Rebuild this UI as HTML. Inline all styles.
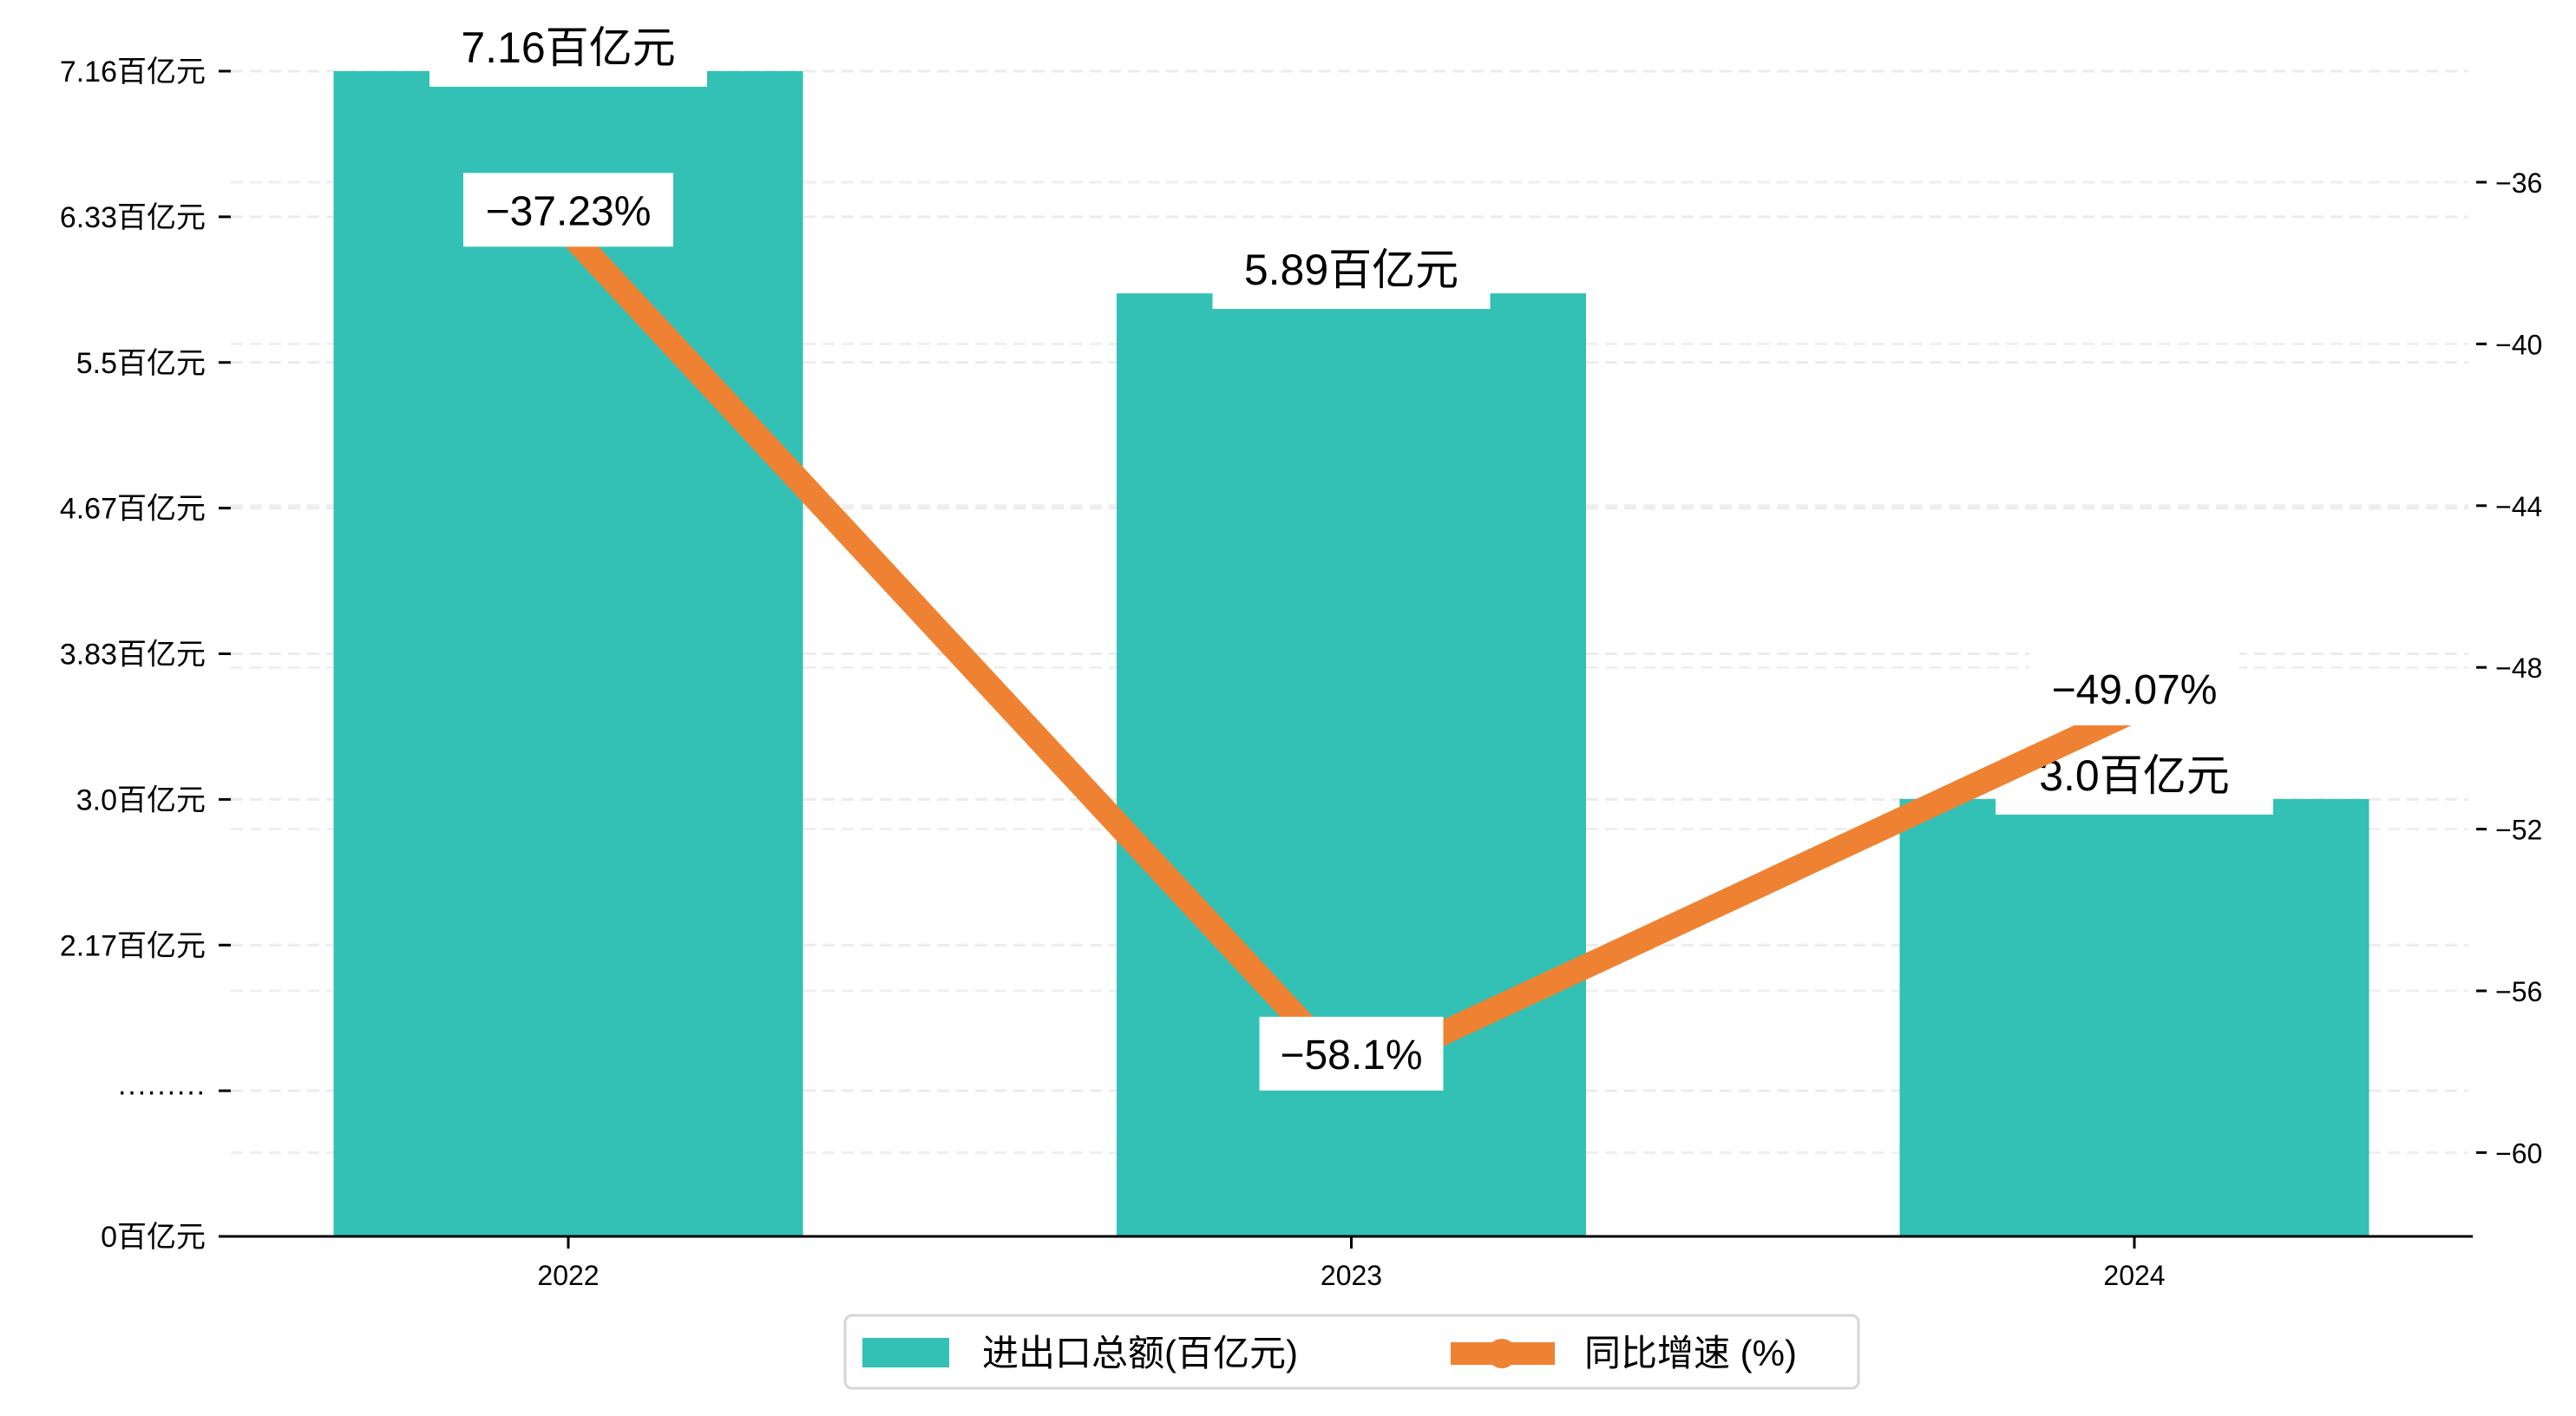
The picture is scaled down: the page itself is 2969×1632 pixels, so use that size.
<!DOCTYPE html>
<html><head><meta charset="utf-8">
<style>
html,body{margin:0;padding:0;background:#fff;}
svg{display:block;font-family:"Liberation Sans","Noto Sans CJK SC",sans-serif;}
</style></head>
<body>
<svg id="chart" width="2969" height="1632" viewBox="0 0 2969 1632" xmlns="http://www.w3.org/2000/svg">
<g id="grid"></g>
<g id="bars"></g>
<g id="barlabels"></g>
<g id="line"></g>
<g id="linelabels"></g>
<g id="axes"></g>
<g id="legend">
  <rect x="974" y="1516" width="1168" height="84" rx="8" fill="#fff" stroke="#d6d6d6" stroke-width="3"/>
  <rect x="994" y="1542" width="100" height="34" fill="#32C1B4"/>
  <text x="1132" y="1574" font-size="42" fill="#000">进出口总额(百亿元)</text>
  <line x1="1672" y1="1560" x2="1792" y2="1560" stroke="#EE8232" stroke-width="26"/>
  <circle cx="1731" cy="1560" r="17" fill="#EE8232"/>
  <text x="1826" y="1574" font-size="42" fill="#000">同比增速 (%)</text>
</g>
</svg>
<script>
const categories = ["2022", "2023", "2024"];
const tradeValues = [7.16, 5.89, 3.0];
const growthValues = [-37.23, -58.1, -49.07];
const leftTickLabels = ["7.16百亿元","6.33百亿元","5.5百亿元","4.67百亿元","3.83百亿元","3.0百亿元","2.17百亿元","·········","0百亿元"];
const rightTicks = [-36, -40, -44, -48, -52, -56, -60];

const NS = "http://www.w3.org/2000/svg";
function mk(tag, attrs, parent){ const e=document.createElementNS(NS,tag); for(const k in attrs) e.setAttribute(k,attrs[k]); parent.appendChild(e); return e; }

const plotL = 256, plotR = 2850, baseY = 1425;
const leftMax = 7.16, leftMin = 0.5;
const yTop = 82;
function yL(v){ return baseY - (v - leftMin) / (leftMax - leftMin) * (baseY - yTop); }
function yR(v){ return 210 + (-36 - v) * 46.6; }
function xC(i){ return 655 + i * 902.5; }
const barW = 541;

const grid = document.getElementById('grid');
const axes = document.getElementById('axes');
leftTickLabels.forEach((lab, i) => {
  const y = yTop + i * (baseY - yTop) / (leftTickLabels.length - 1);
  const g = mk('line',{x1:266,y1:y,x2:2845,y2:y,stroke:'#ececec','stroke-width':3,'stroke-dasharray':'14,8'},grid);
  
  
  const t = mk('line',{x1:252,y1:y,x2:266,y2:y,stroke:'#000','stroke-width':3},axes);
  
  
  const tx = mk('text',{x:237,y:y+12,'text-anchor':'end','font-size':34,fill:'#000'},axes);
  tx.textContent = lab;
  
  
});
rightTicks.forEach(v => {
  const y = yR(v);
  const g = mk('line',{x1:266,y1:y,x2:2845,y2:y,stroke:'#efefef','stroke-width':3,'stroke-dasharray':'14,8'},grid);
  
  
  const t = mk('line',{x1:2854,y1:y,x2:2866,y2:y,stroke:'#000','stroke-width':3},axes);
  
  
  const tx = mk('text',{x:2876,y:y+12,'font-size':32,fill:'#000'},axes);
  tx.textContent = '\u2212' + Math.abs(v);
  
  
});
const bars = document.getElementById('bars');
const bl = document.getElementById('barlabels');
tradeValues.forEach((v, i) => {
  const y = yL(v);
  const r = mk('rect',{x:xC(i)-barW/2,y:y,width:barW,height:baseY-y,fill:'#32C1B4'},bars);
  
  
  const b = mk('rect',{x:xC(i)-160,y:y-56,width:320,height:74,fill:'#fff'},bl);
  
  
  const t = mk('text',{x:xC(i),y:y-10,'text-anchor':'middle','font-size':50,fill:'#000'},bl);
  const dec = String(v).split('.')[1];
  t.textContent = v.toFixed(dec ? dec.length : 1) + '百亿元';
  
  
});
const lg = document.getElementById('line');
const pts = growthValues.map((v,i)=>xC(i)+','+yR(v)).join(' ');
const pl = mk('polyline',{points:pts,fill:'none',stroke:'#EE8232','stroke-width':28,'stroke-linejoin':'round'},lg);


const ll = document.getElementById('linelabels');
growthValues.forEach((v, i) => {
  const y = yR(v);
  const w = String(v).length * 30 + 62;
  const b = mk('rect',{x:xC(i)-w/2,y:y-68,width:w,height:85,fill:'#fff'},ll);
  
  
  const t = mk('text',{x:xC(i),y:y-8,'text-anchor':'middle','font-size':48,fill:'#000'},ll);
  t.textContent = '\u2212' + Math.abs(v) + '%';
  
  
});
const xa = mk('line',{x1:plotL,y1:baseY,x2:plotR,y2:baseY,stroke:'#000','stroke-width':3},axes);


categories.forEach((c,i)=>{
  const t = mk('line',{x1:xC(i),y1:baseY,x2:xC(i),y2:baseY+14,stroke:'#000','stroke-width':3},axes);
  
  
  const tx = mk('text',{x:xC(i),y:baseY+56,'text-anchor':'middle','font-size':32,fill:'#000'},axes);
  tx.textContent = c;
  
  
});
</script>
</body></html>
